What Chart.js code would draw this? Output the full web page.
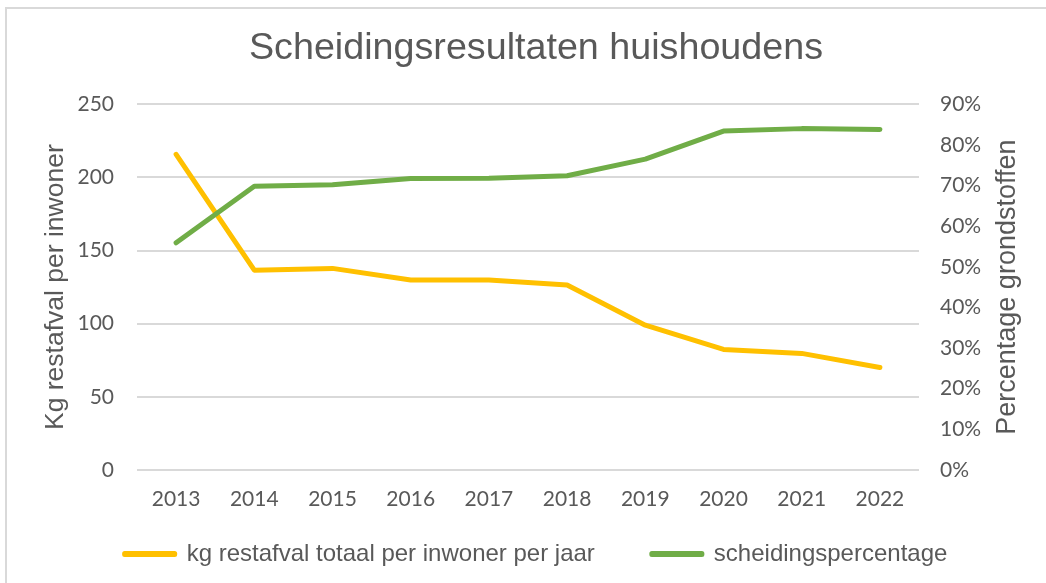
<!DOCTYPE html>
<html>
<head>
<meta charset="utf-8">
<script src="https://cdn.jsdelivr.net/npm/chart.js@4"></script>
<style>
	html, body { margin: 0; padding: 0; background: #ffffff; overflow: hidden; }
	#frame { position: absolute; left: 5px; top: 7px; width: 1100px; height: 700px; border: 2px solid #d9d9d9; }
	#wrap { position: absolute; left: 0; top: 0; width: 1046px; height: 583px; }
</style>
</head>
<body>
<div id="frame"></div>
<div id="wrap"><canvas id="trend_chart"></canvas></div>
<script>
// 데이터
var years = ['2013', '2014', '2015', '2016', '2017', '2018', '2019', '2020', '2021', '2022'];
var restafval = [215.8, 136.6, 137.8, 129.8, 129.8, 126.4, 99, 82.4, 79.7, 70.1];
var scheiding = [55.9, 69.8, 70.2, 71.7, 71.8, 72.4, 76.5, 83.4, 84.0, 83.8];

var textColor = '#595959';
var gridColor = '#d9d9d9';
var tickFont = { size: 21, family: 'Lato' };

// 오른쪽 축 제목 (아래에서 위로 읽히게)
var rightTitlePlugin = {
	id: 'rightTitle',
	afterDraw(chart) {
		var ctx = chart.ctx;
		var area = chart.chartArea;
		ctx.save();
		ctx.translate(1008, (area.top + area.bottom) / 2);
		ctx.rotate(-Math.PI / 2);
		ctx.font = '27px "Liberation Sans", Arial, sans-serif';
		ctx.fillStyle = textColor;
		ctx.textAlign = 'center';
		ctx.textBaseline = 'middle';
		ctx.fillText('Percentage grondstoffen', 0, 0);
		ctx.restore();
	}
};

var myChart = new Chart(document.getElementById('trend_chart'), {
	type: 'line',
	data: {
		labels: years,
		datasets: [{
			label: 'kg restafval totaal per inwoner per jaar',
			yAxisID: 'y',
			data: restafval,
			borderColor: '#ffc000',
			backgroundColor: '#ffc000',
			borderWidth: 5,
			borderCapStyle: 'round',
			borderJoinStyle: 'round',
			pointRadius: 0,
			fill: false,
			order: 1
		}, {
			label: 'scheidingspercentage',
			yAxisID: 'y1',
			data: scheiding,
			borderColor: '#70ad47',
			backgroundColor: '#70ad47',
			borderWidth: 5,
			borderCapStyle: 'round',
			borderJoinStyle: 'round',
			pointRadius: 0,
			fill: false,
			order: 0
		}]
	},
	options: {
		responsive: true,
		maintainAspectRatio: false,
		animation: false,
		layout: {
			padding: { left: 26, right: 0, top: 0, bottom: 7 }
		},
		plugins: {
			title: {
				display: true,
				text: 'Scheidingsresultaten huishoudens',
				color: textColor,
				font: { size: 37.7, family: '"Liberation Sans", Arial, sans-serif', weight: 'normal' },
				padding: { top: 26, bottom: 33 }
			},
			legend: {
				position: 'bottom',
				labels: {
					color: textColor,
					font: { size: 24, family: '"Liberation Sans", Arial, sans-serif' },
					boxWidth: 50,
					boxHeight: 1,
					padding: 57,
					sort: (a, b) => a.datasetIndex - b.datasetIndex
				}
			},
			tooltip: { enabled: false }
		},
		scales: {
			x: {
				offset: true,
				grid: { display: false },
				border: { display: false },
				ticks: {
					color: textColor,
					font: tickFont,
					padding: 9,
					maxRotation: 0
				},
				afterFit(scale) {
					scale.height = 15;
					// 레전드와 겹쳐도 라벨이 잘리지 않게
					scale._computeLabelArea = function () { return undefined; };
				}
			},
			y: {
				position: 'left',
				min: 0,
				max: 250,
				ticks: {
					stepSize: 50,
					color: textColor,
					font: tickFont,
					padding: 23
				},
				grid: {
					color: gridColor,
					lineWidth: 2,
					drawTicks: false
				},
				border: { display: false },
				title: {
					display: true,
					text: 'Kg restafval per inwoner',
					color: textColor,
					font: { size: 26.5, family: '"Liberation Sans", Arial, sans-serif' },
					padding: { top: 14, bottom: 0 }
				},
				afterFit(scale) { scale.width = 111; }
			},
			y1: {
				position: 'right',
				min: 0,
				max: 90,
				ticks: {
					stepSize: 10,
					color: textColor,
					font: tickFont,
					padding: 21,
					callback: v => v + '%'
				},
				grid: { display: false, drawOnChartArea: false, drawTicks: false },
				border: { display: false },
				afterFit(scale) { scale.width = 127; }
			}
		}
	},
	plugins: [rightTitlePlugin]
});
</script>
</body>
</html>
